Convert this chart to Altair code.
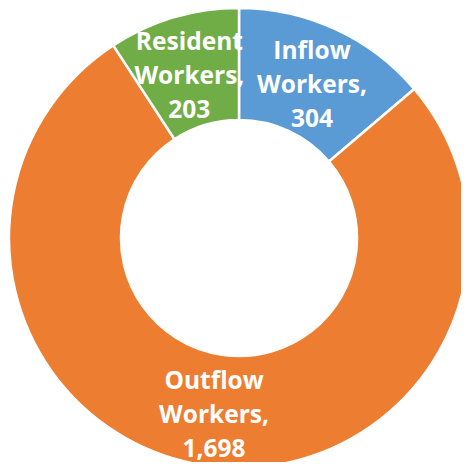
import altair as alt
import pandas as pd

categories = ["Inflow Workers", "Outflow Workers", "Resident Workers"]
values = [304, 1698, 203]
colors = ["#5B9BD5", "#ED7D31", "#70AD47"]

df = pd.DataFrame({
    "category": categories,
    "value": values,
    "order": list(range(len(categories))),
})
df["label"] = [c.replace(" ", "\n") + ",\n" + f"{v:,}" for c, v in zip(categories, values)]

base = alt.Chart(df).encode(
    theta=alt.Theta("value:Q", stack=True),
    order=alt.Order("order:Q"),
    x=alt.value(231),
    y=alt.value(230),
)

arcs = base.mark_arc(outerRadius=230, innerRadius=118, stroke="white", strokeWidth=2.5).encode(
    color=alt.Color("category:N", scale=alt.Scale(domain=categories, range=colors), legend=None)
)

text = base.mark_text(
    radius=174, dy=-28, font="Open Sans", fontWeight="bold", fontSize=24.5, color="white",
    lineBreak="\n", lineHeight=34, align="center", baseline="middle"
).encode(text="label:N")

chart = (arcs + text).properties(
    width=453, height=454, padding=0, autosize=alt.AutoSizeParams(type="none")
).configure_view(stroke=None)

chart.save("out.html", embed_options={"renderer": "svg", "actions": False})
